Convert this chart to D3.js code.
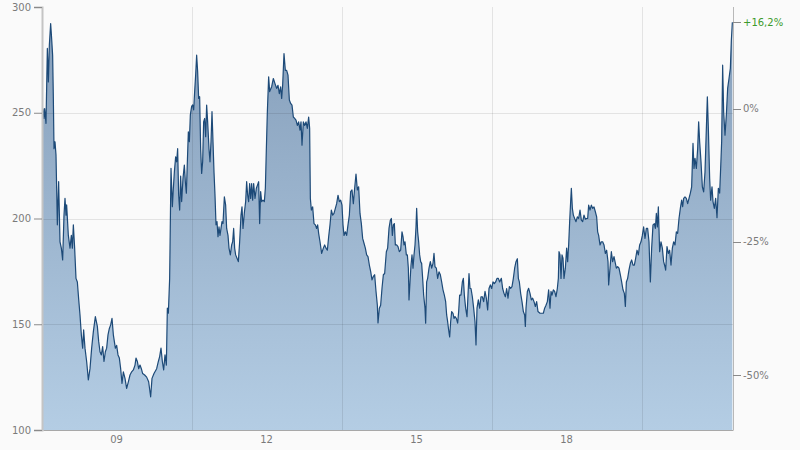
<!DOCTYPE html>
<html>
<head>
<meta charset="utf-8">
<script src="https://cdn.jsdelivr.net/npm/d3@7/dist/d3.min.js"></script>
<style>
  body { margin: 0; background: #fafafa; }
  text { font-family: "DejaVu Sans", sans-serif; font-size: 10px; }
</style>
</head>
<body>
<svg id="chart" width="800" height="450"></svg>
<script>
// decimal years / closing prices
var dates = [
  2007.540, 2007.560, 2007.573, 2007.600, 2007.627, 2007.647, 2007.667, 2007.693, 2007.713, 2007.733,
  2007.747, 2007.760, 2007.780, 2007.800, 2007.827, 2007.853, 2007.880, 2007.907, 2007.933, 2007.960,
  2007.980, 2008.000, 2008.013, 2008.047, 2008.080, 2008.107, 2008.127, 2008.147, 2008.173, 2008.200,
  2008.227, 2008.253, 2008.280, 2008.307, 2008.333, 2008.353, 2008.380, 2008.413, 2008.447, 2008.480,
  2008.513, 2008.547, 2008.587, 2008.627, 2008.653, 2008.680, 2008.707, 2008.733, 2008.760, 2008.787,
  2008.813, 2008.840, 2008.867, 2008.893, 2008.920, 2008.947, 2008.987, 2009.013, 2009.040, 2009.067,
  2009.093, 2009.120, 2009.147, 2009.180, 2009.213, 2009.247, 2009.280, 2009.313, 2009.347, 2009.380,
  2009.400, 2009.427, 2009.453, 2009.480, 2009.507, 2009.533, 2009.573, 2009.613, 2009.653, 2009.693,
  2009.720, 2009.760,
  2009.813, 2009.847, 2009.873, 2009.900, 2009.927, 2009.953, 2009.980, 2010.007, 2010.027, 2010.047,
  2010.073, 2010.100, 2010.127, 2010.147, 2010.167, 2010.193, 2010.213, 2010.233, 2010.253, 2010.273,
  2010.293, 2010.313, 2010.340, 2010.367, 2010.387, 2010.407, 2010.427, 2010.447, 2010.467, 2010.487,
  2010.513, 2010.533, 2010.553, 2010.573, 2010.593, 2010.613, 2010.633, 2010.653, 2010.673, 2010.693,
  2010.713, 2010.733, 2010.753, 2010.773, 2010.793, 2010.813, 2010.833, 2010.860, 2010.880, 2010.900,
  2010.920, 2010.940, 2010.960, 2010.980, 2011.000, 2011.020, 2011.040, 2011.060, 2011.080, 2011.100,
  2011.120, 2011.140, 2011.167, 2011.193, 2011.213, 2011.240, 2011.260, 2011.287, 2011.313, 2011.333,
  2011.353, 2011.373, 2011.393, 2011.420, 2011.447, 2011.473, 2011.500, 2011.520, 2011.540, 2011.567,
  2011.593, 2011.613, 2011.633, 2011.653, 2011.673, 2011.693, 2011.713, 2011.733, 2011.753, 2011.780,
  2011.807, 2011.833, 2011.853, 2011.873, 2011.893, 2011.913, 2011.940, 2011.967, 2011.987, 2012.007,
  2012.027, 2012.053, 2012.073,
  2012.113, 2012.147, 2012.180, 2012.213, 2012.240, 2012.267, 2012.293, 2012.313, 2012.333, 2012.360,
  2012.387, 2012.413, 2012.440, 2012.467, 2012.493, 2012.520, 2012.547, 2012.573, 2012.600, 2012.627,
  2012.653, 2012.680, 2012.700, 2012.720, 2012.747, 2012.773, 2012.800, 2012.827, 2012.853, 2012.873,
  2012.887, 2012.907, 2012.933, 2012.960, 2012.987, 2013.013, 2013.033, 2013.053, 2013.080, 2013.113,
  2013.147, 2013.173, 2013.200, 2013.227, 2013.253, 2013.280, 2013.307, 2013.333, 2013.360, 2013.387,
  2013.413, 2013.440, 2013.467, 2013.493, 2013.520, 2013.540, 2013.560, 2013.587, 2013.613, 2013.640,
  2013.667, 2013.693, 2013.720, 2013.747, 2013.773, 2013.800, 2013.827, 2013.853, 2013.880, 2013.907,
  2013.933, 2013.960, 2013.987, 2014.013, 2014.040, 2014.067, 2014.093, 2014.120, 2014.147, 2014.173,
  2014.200, 2014.227, 2014.240, 2014.267, 2014.293, 2014.320, 2014.347, 2014.373,
  2014.407, 2014.433, 2014.460, 2014.487, 2014.507, 2014.527, 2014.547, 2014.567, 2014.587, 2014.613,
  2014.640, 2014.667, 2014.693, 2014.720, 2014.740, 2014.760, 2014.780, 2014.807, 2014.827, 2014.847,
  2014.860, 2014.880, 2014.900, 2014.920, 2014.940, 2014.960, 2014.980, 2015.000, 2015.013, 2015.033,
  2015.053, 2015.073, 2015.093, 2015.113, 2015.133, 2015.153, 2015.180, 2015.193, 2015.213, 2015.233,
  2015.260, 2015.287, 2015.313, 2015.340, 2015.360, 2015.380, 2015.407, 2015.433, 2015.460, 2015.487,
  2015.513, 2015.540, 2015.567, 2015.593, 2015.613, 2015.633, 2015.653, 2015.673, 2015.693, 2015.713,
  2015.740, 2015.760, 2015.780, 2015.807, 2015.833, 2015.853, 2015.873, 2015.900, 2015.927, 2015.947,
  2015.967, 2015.993, 2016.020, 2016.040, 2016.060, 2016.080, 2016.100, 2016.127, 2016.153, 2016.180,
  2016.200, 2016.220, 2016.247, 2016.273, 2016.300, 2016.327, 2016.353, 2016.380, 2016.407, 2016.433,
  2016.460, 2016.487, 2016.513, 2016.540, 2016.567, 2016.593, 2016.620, 2016.647, 2016.673,
  2016.707, 2016.733, 2016.760, 2016.787, 2016.813, 2016.840, 2016.867, 2016.893, 2016.920, 2016.947,
  2016.973, 2017.000, 2017.027, 2017.047, 2017.067, 2017.093, 2017.120, 2017.147, 2017.173, 2017.187,
  2017.200, 2017.227, 2017.253, 2017.280, 2017.307, 2017.333, 2017.360, 2017.387, 2017.413, 2017.440,
  2017.480, 2017.520, 2017.547, 2017.573, 2017.600, 2017.627, 2017.653, 2017.680, 2017.700, 2017.720,
  2017.747, 2017.773, 2017.800, 2017.827, 2017.847, 2017.860, 2017.880, 2017.900, 2017.920, 2017.940,
  2017.960, 2017.987, 2018.013, 2018.033, 2018.053, 2018.073, 2018.093, 2018.107, 2018.127, 2018.147,
  2018.173, 2018.200, 2018.227, 2018.253, 2018.280, 2018.307, 2018.333, 2018.360, 2018.387, 2018.413,
  2018.433, 2018.453, 2018.480, 2018.507, 2018.533, 2018.560, 2018.587, 2018.613, 2018.633, 2018.653,
  2018.680, 2018.707, 2018.733, 2018.760, 2018.787, 2018.813, 2018.840, 2018.853, 2018.880, 2018.907,
  2018.933, 2018.960,
  2019.007, 2019.033, 2019.060, 2019.087, 2019.113, 2019.140, 2019.167, 2019.187, 2019.207, 2019.233,
  2019.260, 2019.287, 2019.313, 2019.340, 2019.367, 2019.393, 2019.420, 2019.447, 2019.473, 2019.500,
  2019.527, 2019.553, 2019.580, 2019.607, 2019.633, 2019.660, 2019.687, 2019.713, 2019.740, 2019.767,
  2019.787, 2019.807, 2019.827, 2019.847, 2019.873, 2019.900, 2019.927, 2019.953, 2019.980, 2019.993,
  2020.020, 2020.047, 2020.073, 2020.100, 2020.127, 2020.153, 2020.180, 2020.207, 2020.233, 2020.260,
  2020.287, 2020.313, 2020.333, 2020.353, 2020.380, 2020.407, 2020.433, 2020.460, 2020.487, 2020.513,
  2020.540, 2020.560, 2020.580, 2020.607, 2020.633, 2020.653, 2020.673, 2020.700, 2020.727, 2020.753,
  2020.780, 2020.807, 2020.827, 2020.847, 2020.873, 2020.893, 2020.920, 2020.940, 2020.967, 2020.993,
  2021.020, 2021.047, 2021.073, 2021.093, 2021.113, 2021.133, 2021.153, 2021.180, 2021.207, 2021.233,
  2021.260, 2021.287, 2021.307, 2021.327
]

var prices = [
  252, 247.3, 252, 245, 280.4, 264.6, 282, 292.2, 285, 277,
  256.8, 233, 236.3, 230, 197, 217.4, 189, 186, 180.4, 201.6,
  209.5, 201.6, 206.4, 192, 186, 192, 186, 197, 186, 171.7,
  170, 162, 154.4, 145, 138.7, 147.3, 138.7, 132.4, 123.7, 129,
  138.7, 146.5, 153.6, 149, 142, 137, 135.5, 139.4, 132.4, 137,
  138.7, 145, 148, 149.7, 152.8, 145, 138.7, 140, 135.5, 134,
  129, 122, 127.5, 124.4, 119.7, 122.8, 126, 127.5, 128.4, 130.7,
  134, 132.4, 129, 130.7, 129, 126.7, 126, 125, 122.8, 115.7,
  124.4, 126.7,
  129, 132.4, 134.7, 138.7, 132.4, 128.4, 135.5, 130.7, 157.6, 155.2,
  171.7, 223.7, 205.6, 214.3, 222, 229.2, 226.8, 233, 211, 204,
  220, 208, 219, 225.3, 217.4, 212, 226.8, 241, 236.3, 249,
  253, 253.7, 251.3, 260, 267.8, 277.2, 269.4, 256.8, 257.6, 233,
  221.3, 226.8, 245.7, 247.3, 238.7, 253.6, 245.7, 233, 226.8, 236.3,
  250.5, 236.3, 222, 211, 197, 198.5, 191.4, 196, 192, 195.3,
  198.5, 197.6, 210.2, 206.3, 195.3, 192, 186, 182.8, 187.5, 189,
  195.3, 186, 182.8, 181.2, 179.6, 189, 201.6, 205.5, 195.3, 202.7,
  208, 217.4, 211, 208, 216.5, 209.5, 216.5, 208.7, 216.5, 209.5,
  214.3, 216, 217.4, 197.6, 212.7, 208, 208.7, 208, 214.3, 233,
  250.5, 267, 260,
  262.3, 266.2, 263.8, 261.5, 263, 259, 262.3, 256.8, 263, 278,
  270, 270, 267.8, 256, 254.4, 253.6, 248, 247.3, 246.5, 244,
  245.7, 241.8, 245.7, 234.7, 245.7, 244, 245.7, 242.6, 248, 242.6,
  209.5, 204, 205.5, 197.6, 197, 195.3, 197, 193, 189, 183.5,
  186, 187.5, 186, 185, 191.4, 197, 204, 201.6, 202.4, 204.8,
  207, 211, 208, 208.7, 206.3, 197, 192, 193.7, 192, 197,
  201.6, 212.7, 213.5, 207, 214.3, 221, 213.5, 215, 202.4, 197.6,
  190.6, 188.3, 186, 182.8, 182, 178, 175, 171, 172.6, 173.4,
  165.6, 159, 150.6, 157.6, 159, 167, 173.4, 174,
  184.3, 186, 195.3, 199.2, 200, 192, 197, 197.6, 187.5, 187.5,
  186.7, 184.3, 185, 193.7, 191.4, 187.5, 189, 182.8, 182.8, 176.5,
  161.5, 170, 178, 182.8, 176.5, 182.8, 187.5, 196, 204.8, 193.7,
  189, 182.8, 179.6, 178.8, 171.7, 163.8, 157.6, 150.5, 170, 171.7,
  176.5, 179.6, 176.5, 178.8, 183.5, 177.2, 176.5, 171.7, 174.8, 173.4,
  170, 166.3, 163.8, 160.7, 154.4, 151.2, 147.3, 144, 151.2, 156,
  155.2, 152.8, 153.6, 152.8, 150.5, 156, 163.8, 163.8, 170, 171.7,
  163.8, 157.6, 153.6, 163.8, 174, 166.9, 166.9, 163, 157.6, 151.2,
  140.2, 157.6, 161.5, 157.6, 163, 163, 160.7, 165.5, 162.3, 156.8,
  166.9, 168.6, 166.9, 170, 169.2, 170, 171.7, 171.7, 170,
  171.7, 166.9, 164.6, 163, 166.9, 162.3, 167.8, 167, 167.8, 171.7,
  176.5, 179.6, 181, 171.7, 170, 164.6, 160.7, 156, 154.4, 149,
  157.6, 165.5, 167, 164.6, 161.5, 162.3, 160.7, 158.4, 160.7, 156,
  155.2, 155.2, 155.2, 157.6, 159, 160.7, 166.3, 157.6, 165.5, 163.8,
  166.3, 165.5, 163, 167, 171.7, 184.3, 182.8, 171.7, 182.8, 181.2,
  171.7, 176.5, 186, 179.6, 187.5, 198.5, 208, 214.3, 204.8, 201.6,
  200, 198.5, 200.8, 200, 204, 199.2, 198.5, 201.6, 199.7, 200,
  200, 206.3, 204, 206.3, 204.8, 205.5, 203.2, 200.8, 193.7, 192,
  187.5, 189, 189, 187.5, 183.5, 185, 179.6, 168.6, 176.5, 184.3,
  179.6, 182,
  176.5, 177.3, 176.5, 173.4, 170, 166.3, 164.6, 158.4, 170, 171.7,
  175.7, 178.8, 180.4, 178, 178, 181.2, 185, 182.8, 187.5, 189,
  192, 196, 190.6, 195.3, 195.3, 189, 170, 186, 197, 197.6,
  195.3, 202.4, 196, 205.5, 184.3, 189, 186, 179.6, 177.2, 175.6,
  186.7, 183.5, 185, 178, 186, 189, 187.5, 193.7, 193, 200,
  204.8, 208.7, 205.6, 209.5, 210.2, 209.5, 207, 209.5, 212, 215,
  235.5, 223.7, 228.4, 223.7, 233, 245.7, 236.3, 226.8, 215, 212.6,
  222, 242.6, 257.5, 242.6, 219, 208.7, 215, 208, 204.8, 209.5,
  200.4, 214.3, 212, 223.7, 236.3, 272.5, 250.5, 239.4, 249, 261.5,
  266.2, 271, 284.3, 292.8
]

var priceTicks = [100, 150, 200, 250, 300]
var priceGrid = [150, 200, 250]
var pctTicks = [0, -25, -50]
var yearTicks = [2009, 2012, 2015, 2018]
var yearGrid = [2010.52, 2013.52, 2016.51, 2019.51]
var xDomain = [2007.54, 2021.34]

var plotL = 43, plotR = 733, plotT = 7, plotB = 430

var svg = d3.select("#chart")

var x = d3.scaleLinear().domain(xDomain).range([plotL, plotR])
var y = d3.scaleLinear().domain([100, 300]).range([plotB, plotT])

var data = dates.map(function (d, i) {
  return { t: d, v: prices[i] }
})

var base = prices[0]
var last = prices[prices.length - 1]
var yPct = function (p) { return y(base * (1 + p / 100)) }

// gradient for the area
var grad = svg.append("defs").append("linearGradient")
  .attr("id", "areaFill")
  .attr("gradientUnits", "userSpaceOnUse")
  .attr("x1", 0).attr("x2", 0)
  .attr("y1", plotT).attr("y2", plotB)
grad.append("stop").attr("offset", "0%").attr("stop-color", "#849db9")
grad.append("stop").attr("offset", "100%").attr("stop-color", "#b4cde4")

var area = d3.area()
  .x(function (d) { return x(d.t) })
  .y0(y(100))
  .y1(function (d) { return y(d.v) })

var line = d3.line()
  .x(function (d) { return x(d.t) })
  .y(function (d) { return y(d.v) })

svg.append("path")
  .datum(data)
  .attr("d", area)
  .attr("fill", "url(#areaFill)")

// grid on top of the area, semi transparent
svg.selectAll(".hgrid").data(priceGrid).enter().append("line")
  .attr("class", "hgrid")
  .attr("x1", plotL).attr("x2", plotR)
  .attr("y1", function (d) { return Math.round(y(d)) + 0.5 })
  .attr("y2", function (d) { return Math.round(y(d)) + 0.5 })
  .attr("stroke", "rgba(0,0,0,0.09)")

svg.selectAll(".vgrid").data(yearGrid).enter().append("line")
  .attr("class", "vgrid")
  .attr("x1", function (d) { return Math.round(x(d)) + 0.5 })
  .attr("x2", function (d) { return Math.round(x(d)) + 0.5 })
  .attr("y1", plotT).attr("y2", plotB)
  .attr("stroke", "rgba(0,0,0,0.09)")

svg.append("path")
  .datum(data)
  .attr("d", line)
  .attr("fill", "none")
  .attr("stroke", "#1d4a78")
  .attr("stroke-width", 1.2)
  .attr("stroke-linejoin", "round")

// left axis
var yAxis = svg.append("g")
  .attr("transform", "translate(" + (plotL - 1) + ",0)")
  .call(d3.axisLeft(y).tickValues(priceTicks).tickSize(8).tickPadding(3))
yAxis.select(".domain").attr("stroke", "#c4c4c4").attr("stroke-width", 2)
yAxis.selectAll(".tick line").attr("stroke", "#8a8a8a")
yAxis.selectAll(".tick text").attr("fill", "#7a7a7a")
  .style("font-family", "DejaVu Sans").style("font-size", "10px")

// bottom axis
var xAxis = svg.append("g")
  .attr("transform", "translate(0," + plotB + ")")
  .call(d3.axisBottom(x).tickValues(yearTicks).tickSize(0).tickPadding(6)
    .tickFormat(function (d) { return String(d).slice(2) }))
xAxis.select(".domain").attr("stroke", "#a8a8a8")
xAxis.selectAll(".tick text").attr("fill", "#7a7a7a")
  .style("font-family", "DejaVu Sans").style("font-size", "10px")

// right axis in percent of the first close
svg.append("line")
  .attr("x1", plotR + 0.5).attr("x2", plotR + 0.5)
  .attr("y1", plotT).attr("y2", plotB)
  .attr("stroke", "#b8b8b8")

var pctGroup = svg.append("g")
var pctAll = pctTicks.map(function (p) { return { p: p, label: p + "%", last: false } })
var change = (last / base - 1) * 100
pctAll.push({ p: change, label: "+" + change.toFixed(1).replace(".", ",") + "%", last: true })

pctGroup.selectAll("line").data(pctAll).enter().append("line")
  .attr("x1", plotR).attr("x2", plotR + 8)
  .attr("y1", function (d) { return Math.round(yPct(d.p)) + 0.5 })
  .attr("y2", function (d) { return Math.round(yPct(d.p)) + 0.5 })
  .attr("stroke", "#8a8a8a")

pctGroup.selectAll("text").data(pctAll).enter().append("text")
  .attr("x", plotR + 10)
  .attr("y", function (d) { return yPct(d.p) })
  .attr("dy", "0.35em")
  .attr("fill", function (d) { return d.last ? "#3c9a2c" : "#7a7a7a" })
  .text(function (d) { return d.label })
</script>
</body>
</html>
